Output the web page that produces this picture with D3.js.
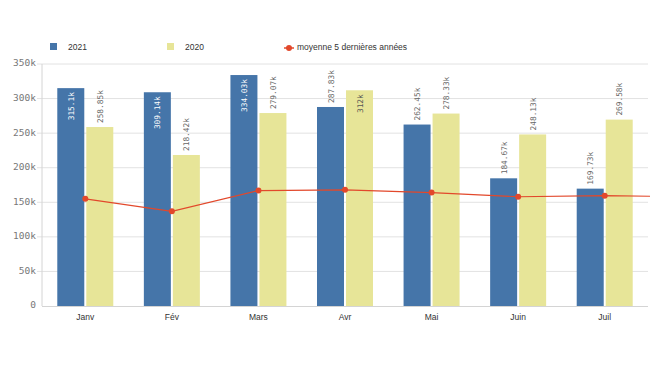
<!DOCTYPE html>
<html>
<head>
<meta charset="utf-8">
<script src="https://d3js.org/d3.v7.min.js"></script>
<style>
  body { margin: 0; background: #fff; }
  #chart { width: 650px; height: 366px; }
</style>
</head>
<body>
<div id="chart"></div>
<script>
// data
const months = ["Janv", "Fév", "Mars", "Avr", "Mai", "Juin", "Juil"];
const values2021 = [315100, 309140, 334030, 287830, 262450, 184670, 169730];
const values2020 = [258850, 218420, 279070, 312000, 278330, 248130, 269580];
const labels2021 = ["315.1k", "309.14k", "334.03k", "287.83k", "262.45k", "184.67k", "169.73k"];
const labels2020 = ["258.85k", "218.42k", "279.07k", "312k", "278.33k", "248.13k", "269.58k"];
// 5 year average, last value is the next month (cut off at the right edge)
const moyenne = [155000, 137000, 167000, 168000, 164000, 158000, 159500, 158000];
const yTicks = [0, 50000, 100000, 150000, 200000, 250000, 300000, 350000];

const colBlue = "#4575a9";
const colYellow = "#e7e598";
const colLine = "#e2482b";

const margin = {top: 64, right: 2, bottom: 60, left: 42};
const W = 650, H = 366;
const width = W - margin.left - margin.right;
const height = H - margin.top - margin.bottom;

const svg = d3.select("#chart").append("svg")
    .attr("width", W).attr("height", H)
    .style("font-family", "'Liberation Sans', Arial, sans-serif");

// legend
const legend = svg.append("g").attr("class", "legend");
const legendItems = [
    {label: "2021", color: colBlue, x: 50},
    {label: "2020", color: colYellow, x: 167}
];
legendItems.forEach(d => {
    legend.append("rect").attr("x", d.x).attr("y", 43).attr("width", 7).attr("height", 7).attr("fill", d.color);
    legend.append("text").attr("x", d.x + 18).attr("y", 50).attr("font-size", 8.5).attr("fill", "#333").text(d.label);
});
legend.append("line").attr("x1", 284).attr("x2", 294).attr("y1", 48).attr("y2", 48)
    .attr("stroke", colLine).attr("stroke-width", 1.5);
legend.append("circle").attr("cx", 289).attr("cy", 48).attr("r", 3).attr("fill", colLine);
legend.append("text").attr("x", 297).attr("y", 50).attr("font-size", 8.5).attr("fill", "#333")
    .text("moyenne 5 dernières années");

const g = svg.append("g").attr("transform", `translate(${margin.left},${margin.top})`);

const x = d3.scaleBand().domain(months).range([0, width]).paddingInner(0).paddingOuter(0);
const y = d3.scaleLinear().domain([0, 350000]).range([height, 0]);

const bw = 27, gap = 2;

// grid
g.append("g").selectAll("line").data(yTicks.slice(1)).join("line")
    .attr("x1", -5).attr("x2", width)
    .attr("y1", d => y(d)).attr("y2", d => y(d))
    .attr("stroke", "#e2e2e2").attr("stroke-width", 1);

// y axis labels
const yAxis = d3.axisLeft(y).tickValues(yTicks).tickSize(0).tickPadding(6)
    .tickFormat(d => d === 0 ? "0" : (d / 1000) + "k");
const ya = g.append("g").call(yAxis);
ya.select(".domain").remove();
ya.selectAll("text").attr("font-family", "'DejaVu Sans Mono', monospace").attr("font-size", 9.5)
    .attr("fill", "#777").attr("dy", "0.2em");

// axis lines
g.append("line").attr("x1", 0).attr("x2", 0).attr("y1", 0).attr("y2", height).attr("stroke", "#d4d4d4");
g.append("line").attr("x1", 0).attr("x2", width).attr("y1", height + 0.5).attr("y2", height + 0.5).attr("stroke", "#d4d4d4");

// bars
const series = [
    {vals: values2021, labels: labels2021, color: colBlue, off: -bw - gap / 2, inside: "#fff"},
    {vals: values2020, labels: labels2020, color: colYellow, off: gap / 2, inside: "#555"}
];
series.forEach(s => {
    const cx = i => x(months[i]) + x.bandwidth() / 2 + s.off;
    g.append("g").selectAll("rect").data(s.vals).join("rect")
        .attr("x", (d, i) => cx(i))
        .attr("y", d => y(d))
        .attr("width", bw)
        .attr("height", d => height - y(d))
        .attr("fill", s.color);

    g.append("g").selectAll("text").data(s.vals).join("text")
        .attr("font-family", "'DejaVu Sans Mono', monospace")
        .attr("font-size", 7.8)
        .text((d, i) => s.labels[i])
        .each(function (d, i) {
            const len = this.getComputedTextLength();
            const top = y(d);
            const tx = cx(i) + bw / 2 + 3;
            const el = d3.select(this);
            if (top - len - 8 >= 0) {
                el.attr("transform", `translate(${tx},${top - 4}) rotate(-90)`)
                  .attr("text-anchor", "start").attr("fill", "#666");
            } else {
                el.attr("transform", `translate(${tx},${top + 4}) rotate(-90)`)
                  .attr("text-anchor", "end").attr("fill", s.inside);
            }
        });
});

// x labels
g.append("g").selectAll("text").data(months).join("text")
    .attr("x", d => x(d) + x.bandwidth() / 2)
    .attr("y", height + 14)
    .attr("text-anchor", "middle")
    .attr("font-size", 8.5)
    .attr("fill", "#333")
    .text(d => d);

// line (last point extends past the right edge, clipped)
svg.append("clipPath").attr("id", "clip").append("rect")
    .attr("x", 0).attr("y", -5).attr("width", width + 2).attr("height", height + 10);
const px = i => x(months[0]) + x.bandwidth() / 2 + i * x.step();
const line = d3.line().x((d, i) => px(i)).y(d => y(d));
const lg = g.append("g").attr("clip-path", "url(#clip)");
lg.append("path").datum(moyenne).attr("d", line)
    .attr("fill", "none").attr("stroke", colLine).attr("stroke-width", 1.2);
lg.selectAll("circle").data(moyenne.slice(0, months.length)).join("circle")
    .attr("cx", (d, i) => px(i)).attr("cy", d => y(d)).attr("r", 3).attr("fill", colLine);
</script>
</body>
</html>
